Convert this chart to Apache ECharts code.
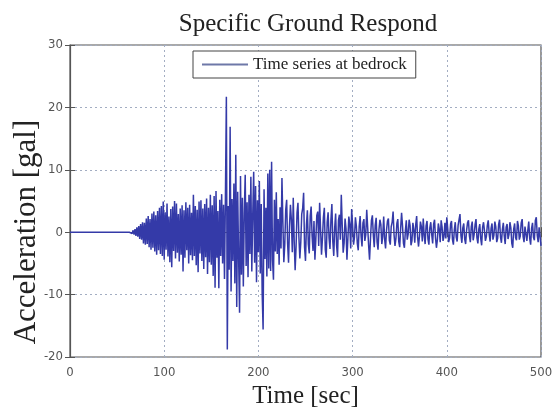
<!DOCTYPE html>
<html>
<head>
<meta charset="utf-8">
<title>Specific Ground Respond</title>
<script src="https://cdn.jsdelivr.net/npm/echarts@6/dist/echarts.min.js"></script>
<style>
  html, body { margin: 0; padding: 0; background: #ffffff; }
  #chart { width: 552px; height: 407px; }
</style>
</head>
<body>
<div id="chart"></div>
<script>
// Acceleration record at bedrock, one sample per second starting at t = 0 s
const sampleStep = 1;
const accel = [
  // 0 - 64 s : before arrival
  0,0,0,0,0,0,0,0,0,0, 0,0,0,0,0,0,0,0,0,0,
  0,0,0,0,0,0,0,0,0,0, 0,0,0,0,0,0,0,0,0,0,
  0,0,0,0,0,0,0,0,0,0, 0,0,0,0,0,0,0,0,0,0,
  0,0,0,0,0,
  // 65 - 99 s
  0.1,-0.2,0.3,-0.4,0.5, -0.6,0.8,-0.7,1.0,-1.1,
  1.3,-1.2,1.6,-1.8,1.5, -2.0,2.2,-1.9,2.6,-2.4,
  2.1,-2.8,3.0,-2.5,3.3, -3.1,2.7,-3.6,3.4,-2.9,
  3.9,-3.5,4.2,-3.8,4.9,
  // 100 - 159 s
  -4.4,3.2,-2.8,4.6,-3.9, 2.5,-4.8,3.7,-5.6,4.1, -3.0,5.0,-4.2,4.6,-3.3, 2.9,-4.7,3.8,-3.6,4.3,
  -6.3,3.5,-4.1,4.8,-2.9, 3.9,-5.0,4.4,-3.7,3.1, -4.5,6.0,-3.8,4.2,-5.3, 3.6,-6.4,4.9,-3.4,5.1,
  -4.6,3.8,-5.9,4.5,-4.0, 5.4,-6.7,3.9,-4.8,6.0, -5.2,4.3,-7.0,5.8,-8.9, 6.6,-4.1,3.4,-9.0,5.2,
  // 160 - 219 s : strong motion
  -3.8,6.1,-5.0,4.4,-7.5, 5.6,21.7,-18.8,4.2,-6.0, 16.9,-9.5,5.3,-4.6,7.8, -8.2,12.4,-12.0,6.5,-4.0,
  -12.9,9.0,-6.8,5.5,-8.7, 3.0,9.2,-5.4,4.8,-7.2, 6.0,-3.5,8.9,-6.3,2.8, 9.7,-4.9,7.4,-8.0,5.1,
  -3.2,8.2,-6.6,4.5,-9.8, -15.6,6.9,-4.3,3.9,-7.1, 9.4,-5.8,10.0,-6.2,11.3, -4.4,-7.6,5.2,-3.1,6.4,
  // 220 - 299 s
  -3.5,2.1,-5.2,4.0,-2.6, 8.7,1.5,-4.8,-2.0,3.6, 5.2,-1.8,-4.9,0.9,4.4, 2.0,-3.2,5.5,-1.4,-6.1,
  -2.3,3.1,4.7,-0.8,-4.2, -1.6,2.9,3.8,6.3,-2.4, -4.6,1.2,3.5,-1.9,-3.4, 2.6,4.1,-0.6,-3.0,1.8,
  -4.4,-1.1,2.7,3.3,-2.2, 4.7,0.5,-3.6,-1.0,2.4, 3.9,-2.8,-4.1,1.6,3.2, -0.9,-2.7,2.0,4.5,-1.5,
  -3.8,0.7,3.0,-2.1,-4.0, 1.9,2.8,-1.2,6.0,1.1, -3.3,-1.7,2.2,0.6,-4.4, -1.0,2.5,1.3,-2.6,3.7,
  // 300 - 399 s
  1.2,-2.0,-0.8,2.4,1.0, -1.8,-2.9,0.9,2.6,-0.6, -2.3,1.5,2.1,-1.4,-0.4, 3.6,0.8,-2.1,-4.4,-1.0,
  1.9,2.7,-0.5,-2.4,1.1, 2.3,-1.6,-2.8,0.4,2.0, 1.2,-1.9,-0.7,2.5,-1.1, -2.6,0.3,1.8,2.2,-1.3,
  -2.0,0.9,1.6,3.3,-0.4, -2.2,-1.0,1.4,2.1,-1.5, -2.4,0.6,3.1,1.0,-1.8, -2.5,0.2,1.9,-1.2,-0.3,
  2.0,1.1,-2.1,-1.4,1.5, 0.4,-1.7,1.2,2.6,-0.8, -2.3,-0.6,1.7,0.9,-1.5, 2.2,-0.5,-1.9,1.0,1.8,
  -1.1,-2.0,0.7,1.6,-0.4, -1.8,1.3,2.0,-0.9,-2.5, -1.2,1.4,0.5,-1.6,1.9, 0.8,-1.4,-0.7,1.5,-1.0,
  // 400 - 500 s
  2.4,0.6,-1.6,-0.9,1.3, 1.8,-1.2,-2.0,0.4,1.6, -0.8,-1.5,1.1,2.0,2.9, -0.5,-1.7,0.7,1.4,-1.1,
  -1.9,0.3,1.5,1.9,-0.6, -1.6,0.9,1.7,-1.3,-0.4, 1.2,2.1,-0.9,-1.8,0.5, 1.3,-1.0,-2.1,0.8,1.6,
  0.2,-1.4,-0.7,1.1,1.9, -0.3,-1.5,0.6,1.4,-1.2, -0.5,1.7,0.9,-1.6,-1.0, 1.2,2.0,-0.8,-1.7,0.4,
  1.5,-0.6,-1.9,0.8,1.3, -1.1,-0.4,1.6,0.7,-1.8, -2.5,0.5,1.4,-0.9,-1.3, 1.8,1.0,-1.2,-0.6,1.5,
  2.1,-0.7,-1.6,0.9,1.2, -1.4,0.3,1.7,-1.0,-2.0, 0.6,1.5,-0.8,-1.3,1.9, 2.4,-0.5,-1.6,0.8,1.1,
  -2.2
];

const xTicks = [0, 100, 200, 300, 400, 500];
const yTicks = [-20, -10, 0, 10, 20, 30];
const seriesName = 'Time series at bedrock';

const points = accel.map((a, i) => [i * sampleStep, a]);

const serif = '"Liberation Serif", "DejaVu Serif", serif';
const narrow = '"Liberation Sans Narrow", "DejaVu Sans Condensed", "Liberation Sans", sans-serif';
const frame = '#555555';
const traceColor = '#343aa8';

const xRange = { min: xTicks[0], max: xTicks[xTicks.length - 1], interval: xTicks[1] - xTicks[0] };
const yRange = { min: yTicks[0], max: yTicks[yTicks.length - 1], interval: yTicks[1] - yTicks[0] };

const chart = echarts.init(document.getElementById('chart'), null, { renderer: 'canvas' });
chart.setOption({
  animation: false,
  backgroundColor: '#ffffff',
  title: {
    text: 'Specific Ground Respond',
    left: 303, top: 7, textAlign: 'center',
    textStyle: { fontFamily: serif, fontSize: 25, fontWeight: 'normal', color: '#222222' }
  },
  legend: {
    data: [{ name: seriesName, icon: 'rect', itemStyle: { color: '#6e78a8' } }],
    left: 193, top: 51,
    itemWidth: 46, itemHeight: 2, itemGap: 6,
    padding: [5, 9, 5, 9],
    backgroundColor: '#ffffff',
    borderColor: '#444444', borderWidth: 1,
    textStyle: { fontFamily: serif, fontSize: 17, color: '#222222' }
  },
  grid: {
    left: 70, right: 11, top: 45, bottom: 50,
    outerBoundsMode: 'none', containLabel: false,
    show: true, borderColor: frame, borderWidth: 1.2, backgroundColor: 'transparent'
  },
  graphic: [{
    type: 'text',
    rotation: Math.PI / 2,
    x: 27, y: 232,
    style: {
      text: 'Acceleration [gal]',
      font: '31px ' + serif,
      fill: '#222222',
      align: 'center', verticalAlign: 'middle'
    }
  }],
  xAxis: [{
    type: 'value', ...xRange,
    name: 'Time [sec]', nameLocation: 'middle', nameGap: 17,
    nameTextStyle: { fontFamily: serif, fontSize: 25, color: '#222222', verticalAlign: 'top' },
    axisLine: { show: true, lineStyle: { color: frame, width: 1.2 } },
    axisTick: { show: true, inside: true, length: 5, lineStyle: { color: frame } },
    axisLabel: { fontFamily: narrow, fontSize: 13, color: '#555555', margin: 9 },
    splitLine: { show: true, lineStyle: { color: '#a3adc2', type: [2, 3], width: 1 } }
  }, {
    type: 'value', ...xRange, position: 'top',
    axisLine: { show: false },
    axisTick: { show: true, inside: true, length: 5, lineStyle: { color: frame } },
    axisLabel: { show: false }, splitLine: { show: false }
  }],
  yAxis: [{
    type: 'value', ...yRange,
    axisLine: { show: true, lineStyle: { color: frame, width: 1.2 } },
    axisTick: { show: true, inside: true, length: 5, lineStyle: { color: frame } },
    axisLabel: { fontFamily: narrow, fontSize: 13, color: '#555555', margin: 7 },
    splitLine: { show: true, lineStyle: { color: '#a3adc2', type: [2, 3], width: 1 } }
  }, {
    type: 'value', ...yRange, position: 'right',
    axisLine: { show: false },
    axisTick: { show: true, inside: true, length: 5, lineStyle: { color: frame } },
    axisLabel: { show: false }, splitLine: { show: false }
  }],
  series: [{
    name: seriesName,
    type: 'line',
    data: points,
    xAxisIndex: 0, yAxisIndex: 0,
    showSymbol: false,
    sampling: null,
    lineStyle: { color: traceColor, width: 1.5 },
    itemStyle: { color: traceColor }
  }]
});
</script>
</body>
</html>
